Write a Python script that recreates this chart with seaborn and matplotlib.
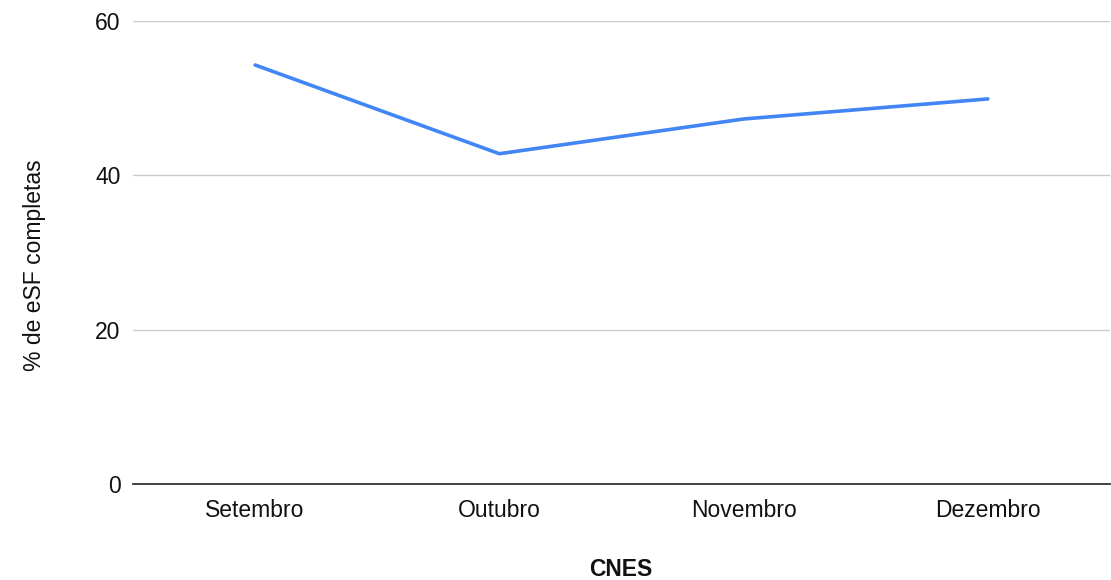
import matplotlib
matplotlib.use("Agg")
import pandas as pd
import seaborn as sns
import matplotlib.pyplot as plt

meses = ["Setembro", "Outubro", "Novembro", "Dezembro"]
esf_completas = [54.3, 42.8, 47.3, 49.9]
yticks = [0, 20, 40, 60]

sns.set_style("white")
plt.rcParams['font.family'] = ['Liberation Sans', 'DejaVu Sans']

df = pd.DataFrame({"mes": meses, "pct": esf_completas})

W, H = 1111, 580
fig = plt.figure(figsize=(W / 100, H / 100), dpi=100)
ax = fig.add_axes([133/W, 1 - 484/H, (1110 - 133)/W, (484 - 21)/H])

sns.lineplot(data=df, x="mes", y="pct", ax=ax, color="#4285f4", linewidth=2.6, sort=False)

ax.set_ylim(0, 60)
ax.set_xlim(-0.5, len(meses) - 0.5)
ax.set_yticks(yticks)
ax.yaxis.grid(True, color="#cccccc", linewidth=1)
ax.set_axisbelow(True)
for s in ["top", "right", "left"]:
    ax.spines[s].set_visible(False)
ax.spines["bottom"].set_color("#333333")
ax.spines["bottom"].set_linewidth(1.3)
ax.tick_params(axis="both", length=0, labelsize=16.5, colors="#111111")
ax.tick_params(axis="x", pad=11)
ax.tick_params(axis="y", pad=9)

# titulos dos eixos posicionados como no original
ax.set_xlabel("")
ax.set_ylabel("")
fig.text(621/W, 1 - 570/H, "CNES", fontsize=16.5, fontweight="bold", color="#111111",
         ha="center", va="center")
fig.text(35/W, 1 - 265/H, "% de eSF completas", fontsize=16.5, color="#111111",
         rotation=90, ha="center", va="center")

fig.savefig("out.png", dpi=100)
